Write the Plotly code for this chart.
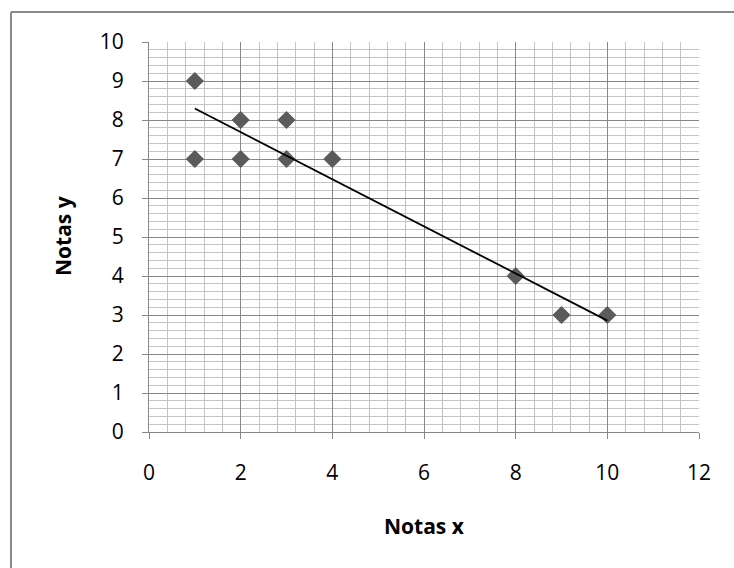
import numpy as np
import plotly.graph_objects as go

notas_x = [1, 1, 2, 2, 3, 3, 4, 8, 9, 10]
notas_y = [9, 7, 8, 7, 8, 7, 7, 4, 3, 3]
x_ticks = [0, 2, 4, 6, 8, 10, 12]
y_ticks = [0, 1, 2, 3, 4, 5, 6, 7, 8, 9, 10]

# linear trend line (least squares), drawn across the data range
slope, intercept = np.polyfit(notas_x, notas_y, 1)
trend_x = [min(notas_x), max(notas_x)]
trend_y = [slope * v + intercept for v in trend_x]

fig = go.Figure()
fig.add_trace(go.Scatter(
    x=notas_x, y=notas_y, mode="markers",
    marker=dict(symbol="diamond", size=14, color="#5b5b5b",
                line=dict(width=0)),
    showlegend=False,
))
fig.add_trace(go.Scatter(
    x=trend_x, y=trend_y, mode="lines",
    line=dict(color="black", width=1.8),
    showlegend=False,
))

font_family = "Open Sans, Liberation Sans, sans-serif"
major = "#878787"
minor = "#c4c4c4"

L, R, T, B = 149, 35, 42, 136
PW, PH = 734 - L - R, 568 - T - B

def px_x(p):
    return (p - L) / PW

def px_y(p):
    return (568 - B - p) / PH

fig.update_layout(
    width=734, height=568,
    margin=dict(l=L, r=R, t=T, b=B),
    paper_bgcolor="white", plot_bgcolor="white",
    font=dict(family=font_family, size=21, color="black"),
    xaxis=dict(
        range=[0, 12], tickvals=x_ticks, ticktext=[str(v) for v in x_ticks],
        showgrid=True, gridcolor=major, gridwidth=1.3,
        minor=dict(dtick=0.4, tick0=0, showgrid=True, gridcolor=minor, gridwidth=1.3, ticks=""),
        ticks="outside", ticklen=6, tickcolor=major, tickwidth=1.3,
        showline=True, linecolor=major, linewidth=1.3,
        zeroline=False, ticklabelstandoff=16,
        tickfont=dict(size=21),
    ),
    yaxis=dict(
        range=[0, 10], tickvals=y_ticks, ticktext=[str(v) for v in y_ticks],
        showgrid=True, gridcolor=major, gridwidth=1.3,
        minor=dict(dtick=0.2, tick0=0, showgrid=True, gridcolor=minor, gridwidth=1.3, ticks=""),
        ticks="outside", ticklen=6, tickcolor=major, tickwidth=1.3,
        showline=True, linecolor=major, linewidth=1.3,
        zeroline=False, ticklabelstandoff=14,
        tickfont=dict(size=21),
    ),
    annotations=[
        dict(text="<b>Notas x</b>", xref="paper", yref="paper",
             x=px_x(424), y=px_y(526), xanchor="center", yanchor="middle",
             showarrow=False, font=dict(size=21)),
        dict(text="<b>Notas y</b>", xref="paper", yref="paper",
             x=px_x(63), y=px_y(236), xanchor="center", yanchor="middle",
             textangle=-90, showarrow=False, font=dict(size=21)),
    ],
    shapes=[
        dict(type="line", xref="paper", yref="paper",
             x0=px_x(11), x1=2.0, y0=px_y(12), y1=px_y(12),
             line=dict(color="#8a8a8a", width=2)),
        dict(type="line", xref="paper", yref="paper",
             x0=px_x(11), x1=px_x(11), y0=px_y(12), y1=-2.0,
             line=dict(color="#8a8a8a", width=2)),
    ],
)

fig.write_html("out.html")
